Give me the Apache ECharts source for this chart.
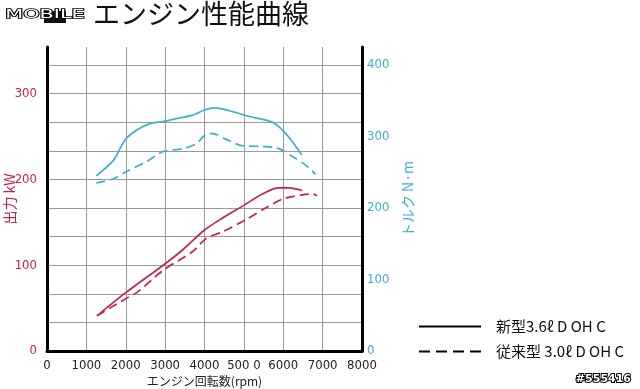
<!DOCTYPE html>
<html>
<head>
<meta charset="utf-8">
<script src="https://cdn.jsdelivr.net/npm/echarts@6/dist/echarts.min.js"></script>
<style>
html,body{margin:0;padding:0;background:#fff;}
#c{width:640px;height:389px;}
</style>
</head>
<body>
<div id="c"></div>
<script>
// ---- data (rpm, value) ----
const torqueNew = [[1250,245],[1690,267],[1980,295],[2280,309],[2610,318],[2950,321],[3280,325],[3700,330],[4000,337],[4250,340],[4630,336],[5140,328],[5730,320],[5980,309],[6230,293],[6470,274]];
const torqueOld = [[1250,235],[1690,241],[2020,251],[2530,265],[2950,279],[3450,283],[3790,290],[4040,303],[4210,304],[4550,296],[4970,287],[5470,286],[5890,283],[6230,272],[6570,260],[6820,247]];
const powerNew = [[1270,41],[2000,68],[2950,100],[3450,118],[4000,141],[4460,155],[5010,170],[5470,183],[5890,190],[6150,190],[6480,187]];
const powerOld = [[1270,41],[2000,61],[2280,68],[2950,94],[3700,116],[4040,131],[4460,139],[5050,153],[5560,167],[5980,177],[6480,182],[6740,183],[6860,181]];
const xTickLabels = {0:'0',1000:'1000',2000:'2000',3000:'3000',4000:'4000',5000:'500 0',6000:'6000',7000:'7000',8000:'8000'};
const legendNames = ['新型3.6ℓ D OH C', '従来型 3.0ℓ D OH C'];
const titleText = 'エンジン性能曲線';
const xName = 'エンジン回転数(rpm)';
const leftName = '出力 kW';
const rightName = 'トルク N·m';
const watermark = '#555416';

const RED = '#c8214d';
const CYAN = '#3aaed3';
const NARROW = '"Liberation Sans Narrow","DejaVu Sans Condensed","Liberation Sans",sans-serif';
const CJK = '"Noto Sans CJK JP","Noto Sans",sans-serif';

const chart = echarts.init(document.getElementById('c'), null, {renderer:'canvas'});
chart.setOption({
  animation:false,
  backgroundColor:'#fff',
  grid:{left:47,right:278,top:47,bottom:38,containLabel:false,outerBoundsMode:'none'},
  xAxis:{
    type:'value',min:0,max:8000,interval:1000,
    name:xName,nameLocation:'middle',nameGap:24,nameMoveOverlap:false,
    nameTextStyle:{color:'#222',fontSize:12,fontFamily:CJK},
    axisLine:{show:true,lineStyle:{color:'#000',width:3}},
    axisTick:{show:false},
    axisLabel:{color:'#222',fontSize:13,fontFamily:NARROW,margin:8,formatter:v=>xTickLabels[v]!==undefined?xTickLabels[v]:''},
    splitLine:{show:true,lineStyle:{color:'#9a9a9a',width:1}}
  },
  yAxis:[{
    type:'value',min:0,max:354.3,interval:100/3,position:'left',
    name:leftName,nameLocation:'middle',nameGap:30,nameRotate:90,nameMoveOverlap:false,
    nameTextStyle:{color:RED,fontSize:14,fontFamily:CJK},
    axisLine:{show:true,lineStyle:{color:'#000',width:3}},
    axisTick:{show:false},
    axisLabel:{color:RED,fontSize:13,fontFamily:NARROW,margin:10,showMaxLabel:false,
      formatter:v=>{const r=Math.round(v);return (Math.abs(v-r)<0.01 && r%100===0)?String(r):'';}},
    splitLine:{show:true,showMaxLine:false,lineStyle:{color:'#9a9a9a',width:1}}
  },{
    type:'value',min:0,max:425.2,interval:20,position:'right',
    name:rightName,nameLocation:'middle',nameGap:39,nameRotate:90,nameMoveOverlap:false,
    nameTextStyle:{color:CYAN,fontSize:14,fontFamily:CJK},
    axisLine:{show:true,lineStyle:{color:'#000',width:3}},
    axisTick:{show:false},
    axisLabel:{color:CYAN,fontSize:13,fontFamily:NARROW,margin:5,showMaxLabel:false,
      formatter:v=>(Math.round(v)%100===0?String(Math.round(v)):'')},
    splitLine:{show:false}
  }],
  legend:{
    data:legendNames,orient:'vertical',left:413,top:314,
    itemWidth:62,itemHeight:14,itemGap:10,
    itemStyle:{opacity:0},
    textStyle:{color:'#111',fontSize:15,fontFamily:CJK,padding:[0,0,0,10]}
  },
  series:[
    {name:'torqueNew',type:'line',yAxisIndex:1,data:torqueNew,smooth:0.3,symbol:'none',lineStyle:{color:CYAN,width:1.7}},
    {name:'torqueOld',type:'line',yAxisIndex:1,data:torqueOld,smooth:0.3,symbol:'none',lineStyle:{color:CYAN,width:1.7,type:[9,5]}},
    {name:'powerNew',type:'line',yAxisIndex:0,data:powerNew,smooth:0.3,symbol:'none',lineStyle:{color:RED,width:1.7}},
    {name:'powerOld',type:'line',yAxisIndex:0,data:powerOld,smooth:0.3,symbol:'none',lineStyle:{color:RED,width:1.7,type:[9,5]}},
    {name:legendNames[0],type:'line',data:[],symbol:'none',color:'#000',lineStyle:{color:'#000',width:1.5}},
    {name:legendNames[1],type:'line',data:[],symbol:'none',color:'#000',lineStyle:{color:'#000',width:1.5,type:[11,6]}}
  ],
  graphic:[
    {type:'rect',left:44,top:11,shape:{width:22,height:12},style:{fill:'#111'}},
    {type:'text',left:4,top:7,style:{text:'MOBILE',font:'13px "DejaVu Sans",sans-serif',fill:'#fff',stroke:'#000',lineWidth:1.6},scaleX:1.6},
    {type:'text',left:93,top:0,style:{text:titleText,font:'27px "Noto Sans CJK JP",sans-serif',fill:'#111'}},
    {type:'text',right:8,top:373,style:{text:watermark,font:'bold 11px "DejaVu Sans",sans-serif',fill:'#fff',stroke:'#000',lineWidth:2}}
  ]
});
</script>
</body>
</html>
